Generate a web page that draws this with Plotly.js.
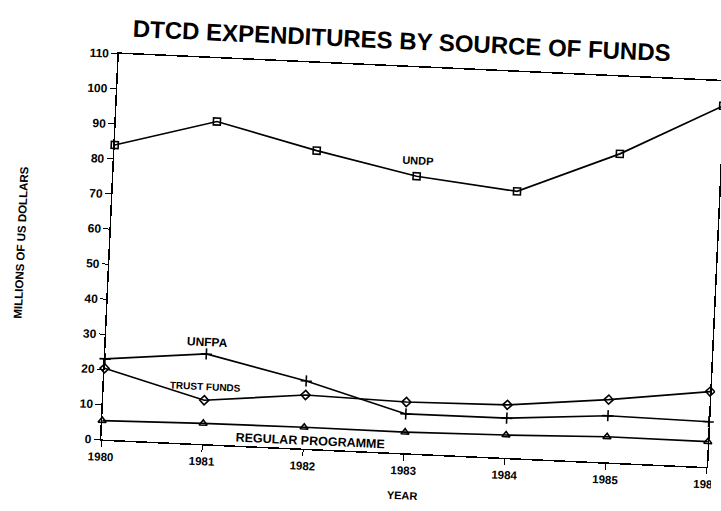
<!DOCTYPE html>
<html>
<head>
<meta charset="utf-8">
<script src="https://cdn.plot.ly/plotly-3.0.1.min.js"></script>
<style>
html,body{margin:0;padding:0;background:#fff;overflow:hidden;}
#chart{width:721px;height:511px;transform:rotate(2.6deg);transform-origin:360px 255px;}
</style>
</head>
<body>
<div id="chart"></div>
<script>
const years = [1980, 1981, 1982, 1983, 1984, 1985, 1986];
const undp = [84, 92, 85, 79, 76, 88, 103];
const unfpa = [23, 25.7, 19.3, 11.2, 11.3, 13.3, 12.9];
const trustFunds = [20.3, 12.5, 15.3, 14.6, 15.1, 17.9, 21.5];
const regularProgramme = [5.4, 5.9, 6.1, 6.0, 6.5, 7.3, 7.2];
const yTicks = [0, 10, 20, 30, 40, 50, 60, 70, 80, 90, 100, 110];
const seriesNames = ['UNDP', 'UNFPA', 'TRUST FUNDS', 'REGULAR PROGRAMME'];

const FONT = 'Liberation Sans, Arial, sans-serif';
const lineStyle = {color: '#000', width: 1.7};

function trace(name, y, symbol, size) {
  return {
    x: years, y: y, name: name, type: 'scatter', mode: 'lines+markers',
    line: lineStyle,
    marker: {symbol: symbol, size: size, color: '#000', line: {color: '#000', width: 1.6}},
    cliponaxis: false
  };
}

const data = [
  trace(seriesNames[0], undp, 'square-open', 7),
  trace(seriesNames[1], unfpa, 'cross-thin-open', 8),
  trace(seriesNames[2], trustFunds, 'diamond-open', 7),
  trace(seriesNames[3], regularProgramme, 'triangle-up-open', 7)
];

function bold(size) { return {family: FONT, size: size, color: '#000', weight: 'bold'}; }

const layout = {
  width: 721, height: 511,
  margin: {l: 110, r: 5, t: 65, b: 60},
  paper_bgcolor: '#fff', plot_bgcolor: '#fff',
  showlegend: false,
  title: {
    text: 'DTCD EXPENDITURES BY SOURCE OF FUNDS',
    font: bold(24),
    x: 392 / 721, xanchor: 'center', y: 1 - 39 / 511, yanchor: 'middle'
  },
  xaxis: {
    range: [1980, 1986], tickvals: years, ticktext: years.map(String),
    showgrid: false, zeroline: false,
    showline: true, linecolor: '#000', linewidth: 1.5, mirror: true,
    ticks: 'outside', ticklen: 6, tickcolor: '#000',
    tickfont: bold(11.5),
    ticklabeloverflow: 'allow',
    title: {text: 'YEAR', font: bold(11), standoff: 16},
    automargin: false
  },
  yaxis: {
    range: [0, 110], tickvals: yTicks,
    showgrid: false, zeroline: false,
    showline: true, linecolor: '#000', linewidth: 1.5, mirror: true,
    ticks: 'outside', ticklen: 6, tickcolor: '#000',
    tickfont: bold(12),
    ticklabeloverflow: 'allow',
    title: {text: 'MILLIONS OF US DOLLARS', font: bold(11.5), standoff: 52},
    automargin: false
  },
  annotations: [
    {x: 1983.0, y: 83.5, text: 'UNDP', showarrow: false, font: bold(11)},
    {x: 1981.0, y: 29.2, text: 'UNFPA', showarrow: false, font: bold(12)},
    {x: 1981.0, y: 16.5, text: 'TRUST FUNDS', showarrow: false, font: bold(10)},
    {x: 1982.06, y: 2.2, text: 'REGULAR PROGRAMME', showarrow: false, font: bold(12.5)}
  ]
};

Plotly.newPlot('chart', data, layout, {displayModeBar: false, staticPlot: true});
</script>
</body>
</html>
